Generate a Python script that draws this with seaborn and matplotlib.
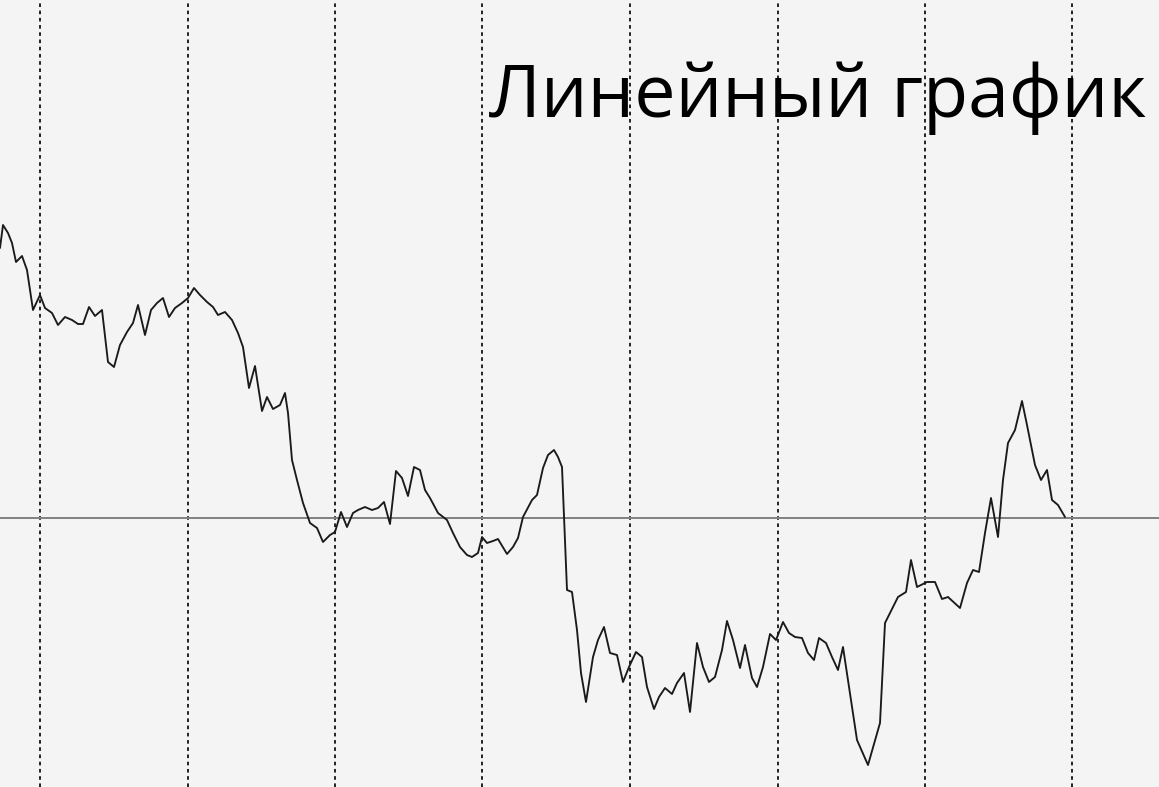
import matplotlib
matplotlib.use("Agg")
import matplotlib.pyplot as plt
import seaborn as sns
import pandas as pd

# Horizontal position (time) of each point of the price line
x_pos = [0, 3, 8, 12, 16, 22, 27, 33, 40, 45, 52, 58, 65, 72, 78, 83, 89, 95, 102, 108,
         114, 120, 127, 133, 138, 145, 151, 157, 163, 169, 175, 182, 188, 194, 200, 207,
         213, 218, 225, 232, 238, 243, 249, 255, 262, 267, 273, 280, 285, 288, 292, 297,
         303, 310, 317, 323, 330, 335, 341, 347, 353, 358, 365, 372, 378, 384, 390, 396,
         402, 408, 414, 420, 425, 430, 438, 447, 453, 460, 467, 472, 478, 482, 487, 493,
         498, 507, 513, 518, 523, 532, 537, 543, 548, 554, 558, 562, 564, 567, 572, 577,
         581, 586, 593, 598, 604, 610, 617, 623, 629, 636, 642, 647, 654, 659, 665, 672,
         677, 684, 690, 697, 703, 709, 715, 722, 727, 733, 740, 745, 752, 757, 763, 770,
         776, 783, 789, 795, 802, 808, 814, 819, 826, 832, 838, 843, 848, 857, 868, 880,
         885, 890, 898, 906, 911, 917, 927, 935, 942, 948, 960, 967, 973, 979, 985, 991,
         998, 1003, 1008, 1015, 1022, 1027, 1035, 1041, 1047, 1052, 1058, 1065]

# Screen row of each point
y_row = [248, 225, 233, 243, 262, 256, 270, 310, 295, 308, 313, 325, 317, 320, 324, 324,
         307, 316, 310, 362, 367, 345, 332, 323, 305, 335, 310, 303, 298, 317, 308, 303,
         298, 288, 295, 302, 307, 315, 312, 320, 333, 347, 388, 366, 411, 397, 409, 405,
         393, 413, 460, 480, 503, 523, 528, 542, 535, 532, 512, 527, 513, 510, 507, 510,
         508, 502, 524, 471, 478, 496, 467, 470, 490, 498, 513, 520, 533, 547, 555, 557,
         553, 537, 543, 541, 539, 554, 547, 538, 517, 500, 495, 468, 455, 450, 457, 467,
         517, 590, 592, 630, 673, 702, 657, 640, 627, 653, 655, 682, 667, 652, 657, 687,
         709, 697, 688, 694, 683, 673, 712, 643, 667, 682, 677, 650, 621, 640, 668, 645,
         678, 687, 667, 634, 640, 622, 633, 637, 638, 653, 660, 638, 643, 657, 670, 647,
         680, 740, 765, 723, 623, 613, 597, 592, 560, 587, 582, 582, 599, 597, 608, 583,
         570, 572, 533, 498, 537, 480, 443, 430, 401, 425, 465, 480, 470, 500, 505, 517]

# Price value relative to the horizontal reference line
baseline_row = 518
values = [baseline_row - r for r in y_row]

# Vertical grid (period separators)
period_x = [40, 188, 335, 482, 630, 778, 925, 1072]

title_text = "Линейный график"

df = pd.DataFrame({"x": x_pos, "value": values})

sns.set_theme(style="white")
plt.rcParams["font.family"] = ["Open Sans", "DejaVu Sans"]

bg = "#f4f4f4"
fig = plt.figure(figsize=(11.59, 7.87), dpi=100, facecolor=bg)
ax = fig.add_axes([0, 0, 1, 1])
ax.set_facecolor(bg)

for px in period_x:
    ax.axvline(px, color="#111111", lw=1.3, linestyle=(0, (2.0, 2.0)), zorder=1)
ax.axhline(0, color="#808080", lw=1.4, zorder=1)

sns.lineplot(data=df, x="x", y="value", sort=False, estimator=None,
             color="#1a1a1a", lw=1.35, ax=ax, zorder=3)

ax.set_xlim(0, 1159)
ax.set_ylim(baseline_row - 787, baseline_row)
ax.set_xlabel("")
ax.set_ylabel("")
ax.set_xticks([])
ax.set_yticks([])
for s in ax.spines.values():
    s.set_visible(False)

ax.text(1146, baseline_row - 117, title_text, ha="right", va="baseline",
        fontsize=53, color="#000000", zorder=5)

fig.savefig("out.png", dpi=100, facecolor=bg)
